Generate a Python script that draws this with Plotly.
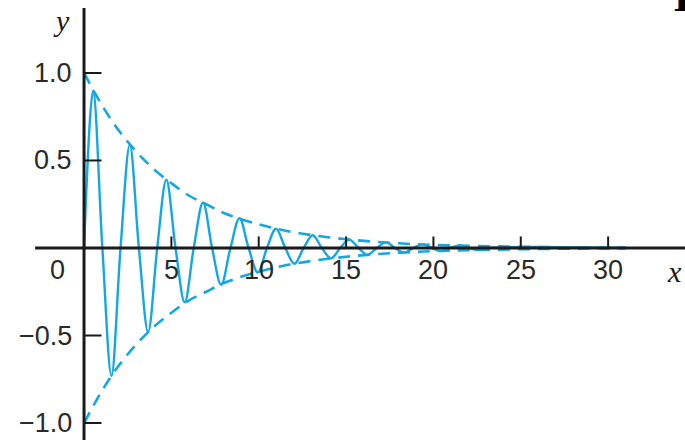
import plotly.graph_objects as go

# Damped oscillation: zero crossings and turning points
curve_x = [0, 0.52, 1.05, 1.57, 2.09, 2.62, 3.14, 3.67, 4.19, 4.71, 5.24, 5.76,
           6.28, 6.81, 7.33, 7.85, 8.38, 8.90, 9.42, 9.95, 10.47, 10.99, 11.52,
           12.04, 12.57, 13.09, 13.61, 14.14, 14.66, 15.18, 15.71, 16.23, 16.76,
           17.28, 17.80, 18.33, 18.85, 19.37, 19.90, 20.42, 20.94, 21.47, 21.99,
           22.51, 23.04, 31.0]
curve_y = [0, 0.90, 0, -0.73, 0, 0.59, 0, -0.48, 0, 0.39, 0, -0.31,
           0, 0.26, 0, -0.21, 0, 0.17, 0, -0.14, 0, 0.11, 0,
           -0.09, 0, 0.073, 0, -0.059, 0, 0.048, 0, -0.039, 0,
           0.032, 0, -0.026, 0, 0.021, 0, -0.017, 0, 0.014, 0,
           -0.011, 0, 0]

# Envelope curves
env_x = [0, 1, 2, 3, 4, 5, 6, 7, 8, 10, 12, 15, 18, 20, 25, 31]
env_upper = [1.0, 0.82, 0.67, 0.55, 0.45, 0.37, 0.30, 0.25, 0.20, 0.135, 0.09,
             0.05, 0.027, 0.018, 0.007, 0.002]
env_lower = [-v for v in env_upper]

x_ticks = [5, 10, 15, 20, 25, 30]
x_tick_labels = ["5", "10", "15", "20", "25", "30"]
y_ticks = [1.0, 0.5, -0.5, -1.0]
y_tick_labels = ["1.0", "0.5", "\u22120.5", "\u22121.0"]

BLUE = "#14a7e2"
INK = "#1a1a1a"
TICK_FONT = dict(family="Liberation Sans, Arial, sans-serif", size=27, color="#2a2a2a")
SERIF = "Liberation Serif, serif"

fig = go.Figure()
fig.add_trace(go.Scatter(x=env_x, y=env_upper, mode="lines",
                         line=dict(color=BLUE, width=2.6, dash="12px,8px", shape="spline"),
                         hoverinfo="skip"))
fig.add_trace(go.Scatter(x=env_x, y=env_lower, mode="lines",
                         line=dict(color=BLUE, width=2.6, dash="12px,8px", shape="spline"),
                         hoverinfo="skip"))
fig.add_trace(go.Scatter(x=curve_x, y=curve_y, mode="lines",
                         line=dict(color=BLUE, width=2.4, shape="spline", smoothing=1.0),
                         hoverinfo="skip"))

shapes = []
# x axis and y axis lines
shapes.append(dict(type="line", xref="x", yref="y", x0=-2.8, x1=40, y0=0, y1=0,
                   line=dict(color=INK, width=3), layer="above"))
shapes.append(dict(type="line", xref="x", yref="y", x0=0, x1=0, y0=1.372, y1=-1.3,
                   line=dict(color=INK, width=3), layer="above"))
# tick marks
for t in x_ticks:
    shapes.append(dict(type="line", xref="x", yref="y", x0=t, x1=t, y0=0, y1=0.066,
                       line=dict(color=INK, width=2), layer="above"))
for t in y_ticks:
    shapes.append(dict(type="line", xref="x", yref="y", x0=0, x1=1.0, y0=t, y1=t,
                       line=dict(color=INK, width=2), layer="above"))

annotations = []
for t, lab in zip(x_ticks, x_tick_labels):
    annotations.append(dict(x=t, y=-0.126, xref="x", yref="y", text=lab,
                            showarrow=False, font=TICK_FONT,
                            xanchor="center", yanchor="middle"))
annotations.append(dict(x=-1.5, y=-0.126, xref="x", yref="y", text="0",
                        showarrow=False, font=TICK_FONT,
                        xanchor="center", yanchor="middle"))
for t, lab in zip(y_ticks, y_tick_labels):
    annotations.append(dict(x=-0.6, y=t, xref="x", yref="y", text=lab,
                            showarrow=False, font=TICK_FONT,
                            xanchor="right", yanchor="middle"))
# axis names
annotations.append(dict(x=-1.3, y=1.30, xref="x", yref="y", text="<i>y</i>",
                        showarrow=False,
                        font=dict(family=SERIF, size=30, color=INK),
                        xanchor="center", yanchor="middle"))
annotations.append(dict(x=684 / 685, y=-0.135, xref="paper", yref="y", text="<i>x</i>",
                        showarrow=False,
                        font=dict(family=SERIF, size=30, color=INK),
                        xanchor="right", yanchor="middle"))
# panel letter in the top right corner
annotations.append(dict(x=672 / 685, y=1 - 23 / 440, xref="paper", yref="paper",
                        text="<b>B</b>", showarrow=False,
                        font=dict(family=SERIF, size=44, color="#000"),
                        xanchor="left", yanchor="bottom"))

fig.update_layout(
    width=685, height=440,
    margin=dict(l=0, r=0, t=0, b=0),
    plot_bgcolor="white", paper_bgcolor="white",
    showlegend=False,
    xaxis=dict(range=[-4.81, 34.4], visible=False),
    yaxis=dict(range=[-1.097, 1.417], visible=False),
    shapes=shapes,
    annotations=annotations,
)

fig.write_html("out.html")
